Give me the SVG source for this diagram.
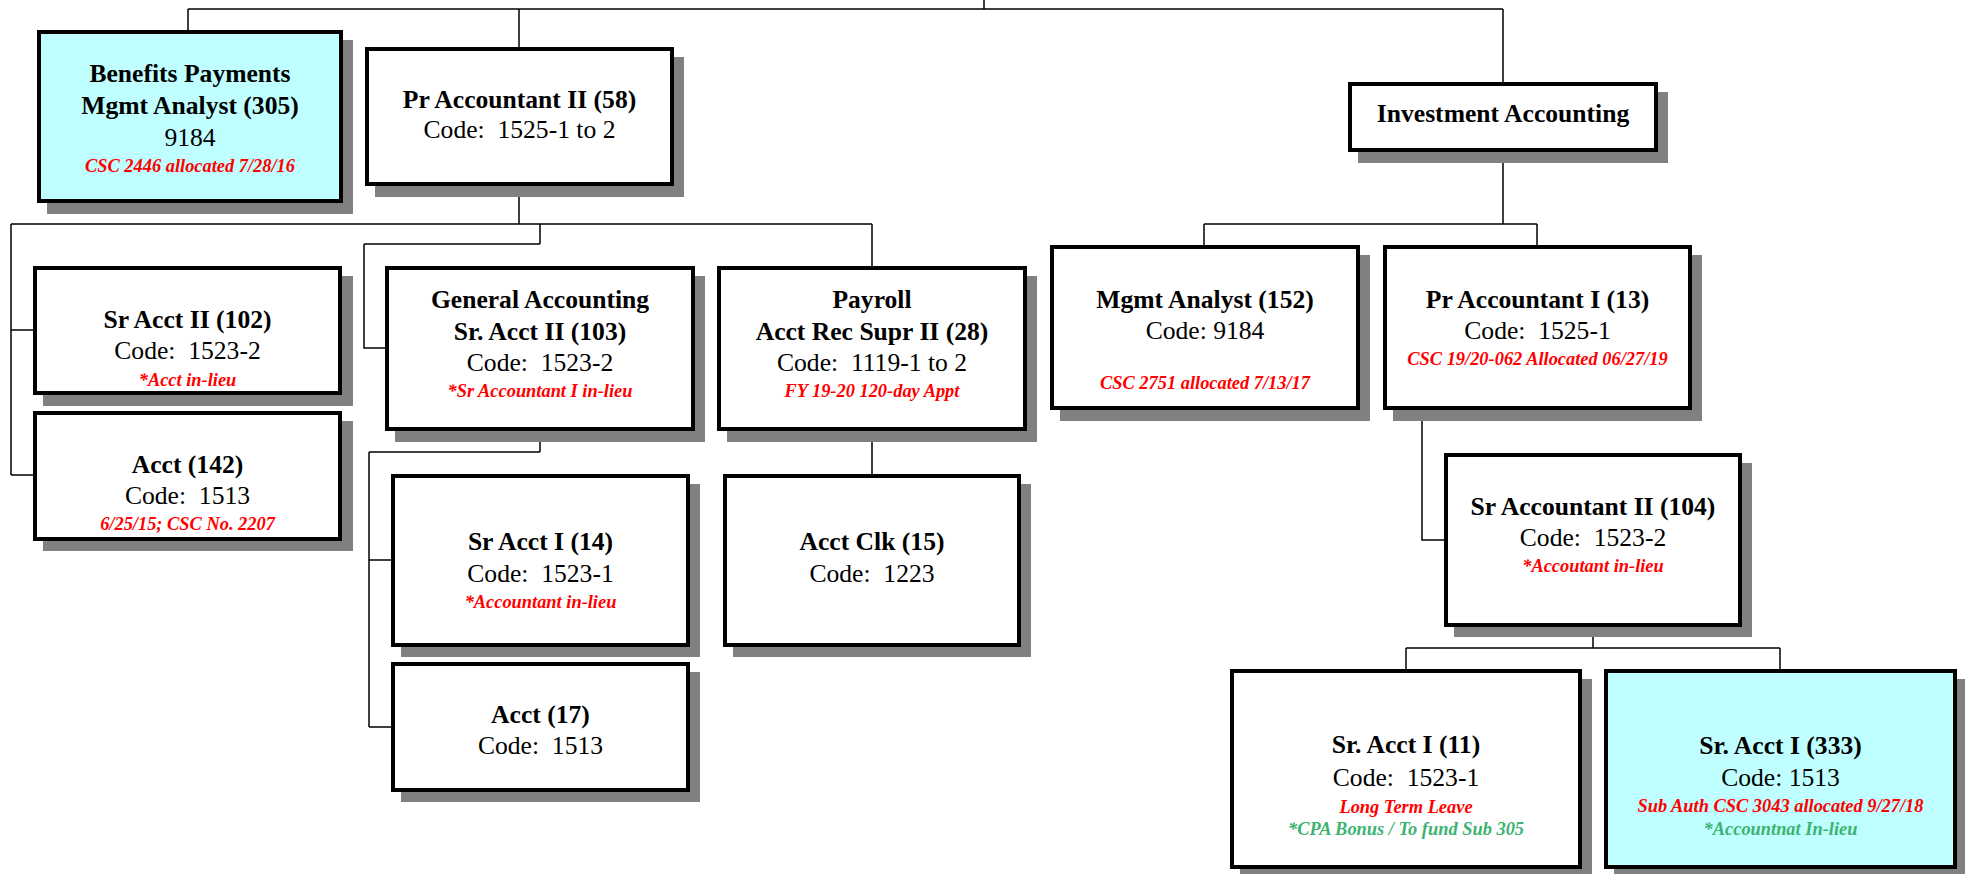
<svg xmlns="http://www.w3.org/2000/svg" width="1965" height="874" viewBox="0 0 1965 874">
<style>
.sh{fill:#808080}
.bx{fill:#ffffff;stroke:#000;stroke-width:4}
.cy{fill:#bfffff}
.t{font-family:"Liberation Serif","Times New Roman",serif;font-weight:bold;font-size:25.6px;fill:#000;text-anchor:middle}
.c{font-family:"Liberation Serif","Times New Roman",serif;font-size:25.6px;fill:#000;text-anchor:middle}
.r{font-family:"Liberation Serif","Times New Roman",serif;font-weight:bold;font-style:italic;font-size:18.4px;fill:#ff0000;text-anchor:middle}
.g{font-family:"Liberation Serif","Times New Roman",serif;font-weight:bold;font-style:italic;font-size:18.4px;fill:#3cb371;text-anchor:middle}
.ln{fill:none;stroke:#000;stroke-width:1.5}
</style>
<rect width="1965" height="874" fill="#fff"/>
<g id="connectors" class="ln">
<path d="M984 0V9M188 9H1503M188 9V30M519 9V47M1503 9V82"/>
<path d="M519 186V224M11 224H872M11 224V475M11 330H33M11 475H33"/>
<path d="M540 224V244M364 244H540M364 244V348H385"/>
<path d="M872 224V266M872 431V474"/>
<path d="M540 431V452M369 452H540M369 452V727M369 560H391M369 727H391"/>
<path d="M1503 152V224M1204 224H1537M1204 224V245M1537 224V245"/>
<path d="M1422 410V540H1444"/>
<path d="M1593 627V648M1406 648H1780M1406 648V669M1780 648V669"/>
</g>
<g id="benefits">
<rect class="sh" x="47" y="40" width="306" height="174"/>
<rect class="bx cy" x="39" y="32" width="302" height="169"/>
<text class="t" x="190" y="82">Benefits Payments</text>
<text class="t" x="190" y="114">Mgmt Analyst (305)</text>
<text class="c" x="190" y="146">9184</text>
<text class="r" x="190" y="172">CSC 2446 allocated 7/28/16</text>
</g>
<g id="pr-acct-ii-58">
<rect class="sh" x="375" y="57" width="309" height="140"/>
<rect class="bx" x="367" y="49" width="305" height="135"/>
<text class="t" x="519.5" y="108">Pr Accountant II (58)</text>
<text class="c" x="519.5" y="138">Code:&#160; 1525-1 to 2</text>
</g>
<g id="investment">
<rect class="sh" x="1358" y="92" width="310" height="71"/>
<rect class="bx" x="1350" y="84" width="306" height="66"/>
<text class="t" x="1503" y="122">Investment Accounting</text>
</g>
<g id="sr-acct-ii-102">
<rect class="sh" x="43" y="276" width="310" height="130"/>
<rect class="bx" x="35" y="268" width="305" height="125"/>
<text class="t" x="187.5" y="328">Sr Acct II (102)</text>
<text class="c" x="187.5" y="359">Code:&#160; 1523-2</text>
<text class="r" x="187.5" y="386">*Acct in-lieu</text>
</g>
<g id="acct-142">
<rect class="sh" x="43" y="421" width="310" height="130"/>
<rect class="bx" x="35" y="413" width="305" height="126"/>
<text class="t" x="187.5" y="473">Acct (142)</text>
<text class="c" x="187.5" y="504">Code:&#160; 1513</text>
<text class="r" x="187.5" y="530">6/25/15; CSC No. 2207</text>
</g>
<g id="gen-acct-103">
<rect class="sh" x="395" y="276" width="310" height="166"/>
<rect class="bx" x="387" y="268" width="306" height="161"/>
<text class="t" x="540" y="308">General Accounting</text>
<text class="t" x="540" y="340">Sr. Acct II (103)</text>
<text class="c" x="540" y="371">Code:&#160; 1523-2</text>
<text class="r" x="540" y="397">*Sr Accountant I in-lieu</text>
</g>
<g id="payroll-28">
<rect class="sh" x="727" y="276" width="310" height="166"/>
<rect class="bx" x="719" y="268" width="306" height="161"/>
<text class="t" x="872" y="308">Payroll</text>
<text class="t" x="872" y="340">Acct Rec Supr II (28)</text>
<text class="c" x="872" y="371">Code:&#160; 1119-1 to 2</text>
<text class="r" x="872" y="397">FY 19-20 120-day Appt</text>
</g>
<g id="mgmt-analyst-152">
<rect class="sh" x="1060" y="255" width="310" height="166"/>
<rect class="bx" x="1052" y="247" width="306" height="161"/>
<text class="t" x="1205" y="308">Mgmt Analyst (152)</text>
<text class="c" x="1205" y="339">Code: 9184</text>
<text class="r" x="1205" y="389">CSC 2751 allocated 7/13/17</text>
</g>
<g id="pr-acct-i-13">
<rect class="sh" x="1393" y="255" width="309" height="166"/>
<rect class="bx" x="1385" y="247" width="305" height="161"/>
<text class="t" x="1537.5" y="308">Pr Accountant I (13)</text>
<text class="c" x="1537.5" y="339">Code:&#160; 1525-1</text>
<text class="r" x="1537.5" y="365">CSC 19/20-062 Allocated 06/27/19</text>
</g>
<g id="sr-acct-i-14">
<rect class="sh" x="401" y="484" width="299" height="173"/>
<rect class="bx" x="393" y="476" width="295" height="169"/>
<text class="t" x="540.5" y="550">Sr Acct I (14)</text>
<text class="c" x="540.5" y="582">Code:&#160; 1523-1</text>
<text class="r" x="540.5" y="608">*Accountant in-lieu</text>
</g>
<g id="acct-17">
<rect class="sh" x="401" y="672" width="299" height="130"/>
<rect class="bx" x="393" y="664" width="295" height="126"/>
<text class="t" x="540.5" y="723">Acct (17)</text>
<text class="c" x="540.5" y="754">Code:&#160; 1513</text>
</g>
<g id="acct-clk-15">
<rect class="sh" x="733" y="484" width="298" height="173"/>
<rect class="bx" x="725" y="476" width="294" height="169"/>
<text class="t" x="872" y="550">Acct Clk (15)</text>
<text class="c" x="872" y="582">Code:&#160; 1223</text>
</g>
<g id="sr-acct-ii-104">
<rect class="sh" x="1454" y="463" width="298" height="174"/>
<rect class="bx" x="1446" y="455" width="294" height="170"/>
<text class="t" x="1593" y="515">Sr Accountant II (104)</text>
<text class="c" x="1593" y="546">Code:&#160; 1523-2</text>
<text class="r" x="1593" y="572">*Accoutant in-lieu</text>
</g>
<g id="sr-acct-i-11">
<rect class="sh" x="1240" y="679" width="352" height="200"/>
<rect class="bx" x="1232" y="671" width="348" height="196"/>
<text class="t" x="1406" y="753">Sr. Acct I (11)</text>
<text class="c" x="1406" y="786">Code:&#160; 1523-1</text>
<text class="r" x="1406" y="813">Long Term Leave</text>
<text class="g" x="1406" y="835">*CPA Bonus / To fund Sub 305</text>
</g>
<g id="sr-acct-i-333">
<rect class="sh" x="1614" y="679" width="353" height="200"/>
<rect class="bx cy" x="1606" y="671" width="349" height="196"/>
<text class="t" x="1780.5" y="754">Sr. Acct I (333)</text>
<text class="c" x="1780.5" y="786">Code: 1513</text>
<text class="r" x="1780.5" y="812">Sub Auth CSC 3043 allocated 9/27/18</text>
<text class="g" x="1780.5" y="835">*Accountnat In-lieu</text>
</g>
</svg>
